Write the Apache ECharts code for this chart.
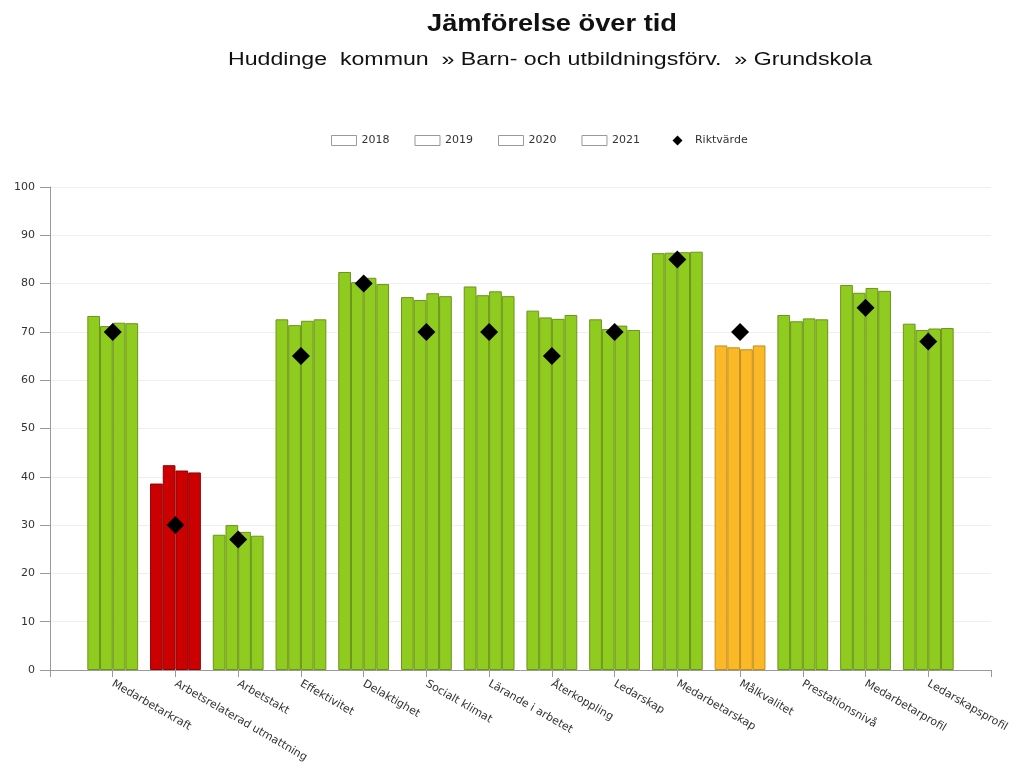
<!DOCTYPE html>
<html lang="sv">
<head>
    <meta charset="UTF-8">
    <title>Jämförelse över tid</title>
    <script src="https://cdn.jsdelivr.net/npm/echarts@6/dist/echarts.min.js"></script>
    <style>
        html, body { margin: 0; padding: 0; background: #fff; }
        #chart { width: 1017px; height: 769px; }
    </style>
</head>
<body>
    <div id="chart"></div>
    <script>
        // Index categories and yearly values
        var categories = ['Medarbetarkraft', 'Arbetsrelaterad utmattning', 'Arbetstakt', 'Effektivitet',
            'Delaktighet', 'Socialt klimat', 'Lärande i arbetet', 'Återkoppling', 'Ledarskap',
            'Medarbetarskap', 'Målkvalitet', 'Prestationsnivå', 'Medarbetarprofil', 'Ledarskapsprofil'];
        var years = ['2018', '2019', '2020', '2021'];
        var v2018 = [73.3, 38.6, 28.0, 72.6, 82.4, 77.2, 79.4, 74.4, 72.6, 86.3, 67.2, 73.5, 79.7, 71.7];
        var v2019 = [71.2, 42.4, 30.0, 71.4, 80.3, 76.6, 77.6, 73.0, 70.6, 86.4, 66.8, 72.2, 78.1, 70.4];
        var v2020 = [71.9, 41.3, 28.6, 72.3, 81.2, 78.0, 78.4, 72.7, 71.3, 86.5, 66.4, 72.8, 79.1, 70.7];
        var v2021 = [71.8, 40.9, 27.8, 72.6, 79.9, 77.4, 77.4, 73.5, 70.4, 86.6, 67.2, 72.6, 78.5, 70.8];
        var riktvarde = [70, 30, 27, 65, 80, 70, 70, 65, 70, 85, 70, null, 75, 68];
        // level per index: ok / warn / bad
        var levels = ['ok', 'bad', 'ok', 'ok', 'ok', 'ok', 'ok', 'ok', 'ok', 'ok', 'warn', 'ok', 'ok', 'ok'];

        var titleText = 'Jämförelse över tid';
        var subText = 'Huddinge  kommun  » Barn- och utbildningsförv.  » Grundskola';

        var fills = { ok: '#8fcc1f', warn: '#fbb927', bad: '#cc0000' };
        var borders = { ok: '#6b9419', warn: '#c28d1c', bad: '#8f0000' };

        // pad with empty slots so the groups sit on ticks 1..14
        var axisCats = [''].concat(categories, ['']);
        function pad(arr) { return [null].concat(arr, [null]); }

        function barSeries(name, values) {
            return {
                name: name,
                type: 'bar',
                barWidth: 12.7,
                barGap: '0%',
                itemStyle: { color: '#fff', borderColor: '#999', borderWidth: 1 },
                data: pad(values).map(function (v, i) {
                    if (v == null) return null;
                    var s = levels[i - 1];
                    return { value: v, itemStyle: { color: fills[s], borderColor: borders[s], borderWidth: 1 } };
                })
            };
        }

        // the original header text is drawn a bit wide, so stretch it to fit
        var ctx = document.createElement('canvas').getContext('2d');
        function stretch(text, font, width) {
            ctx.font = font;
            return width / ctx.measureText(text).width;
        }
        var titleFont = 'bold 23px "Liberation Sans"';
        var subFont = '18px "Liberation Sans"';

        // small diamond centred in the legend box (moveTo points pad the box so it is not stretched)
        var legendDiamond = 'path://M0,0 M25,10 M12.5,0 L17.5,5 L12.5,10 L7.5,5 Z';

        var chart = echarts.init(document.getElementById('chart'));
        chart.setOption({
            animation: false,
            backgroundColor: '#fff',
            textStyle: { fontFamily: 'DejaVu Sans' },
            graphic: [
                {
                    type: 'text', x: 552, y: 25, scaleX: stretch(titleText, titleFont, 250),
                    style: { text: titleText, font: titleFont, fill: '#111', align: 'center', verticalAlign: 'middle' }
                },
                {
                    type: 'text', x: 550, y: 60, scaleX: stretch(subText, subFont, 644),
                    style: { text: subText, font: subFont, fill: '#111', align: 'center', verticalAlign: 'middle' }
                }
            ],
            legend: {
                top: 130,
                left: 326,
                itemWidth: 25,
                itemHeight: 10,
                itemGap: 25,
                textStyle: { fontSize: 11, color: '#333' },
                data: years.map(function (y) {
                    return { name: y, icon: 'rect', itemStyle: { color: '#fff', borderColor: '#999', borderWidth: 1 } };
                }).concat([{ name: 'Riktvärde', icon: legendDiamond, itemStyle: { color: '#000' } }])
            },
            grid: { left: 50, right: 26, top: 187, bottom: 99, containLabel: false },
            xAxis: {
                type: 'category',
                data: axisCats,
                boundaryGap: false,
                axisLine: { lineStyle: { color: '#999' } },
                axisTick: { interval: 0, length: 7, lineStyle: { color: '#999' } },
                axisLabel: { interval: 0, rotate: -30, fontSize: 11, color: '#333', margin: 13 },
                splitLine: { show: false }
            },
            yAxis: {
                type: 'value',
                min: 0,
                max: 100,
                interval: 10,
                axisLine: { show: true, lineStyle: { color: '#999' } },
                axisTick: { show: true, length: 10, lineStyle: { color: '#999' } },
                axisLabel: { fontSize: 11, color: '#333', margin: 15 },
                splitLine: { lineStyle: { color: '#efefef' } }
            },
            series: [
                barSeries('2018', v2018),
                barSeries('2019', v2019),
                barSeries('2020', v2020),
                barSeries('2021', v2021),
                {
                    name: 'Riktvärde',
                    type: 'scatter',
                    symbol: 'diamond',
                    symbolSize: 18,
                    itemStyle: { color: '#000', opacity: 1 },
                    z: 5,
                    data: pad(riktvarde)
                }
            ]
        });
    </script>
</body>
</html>
